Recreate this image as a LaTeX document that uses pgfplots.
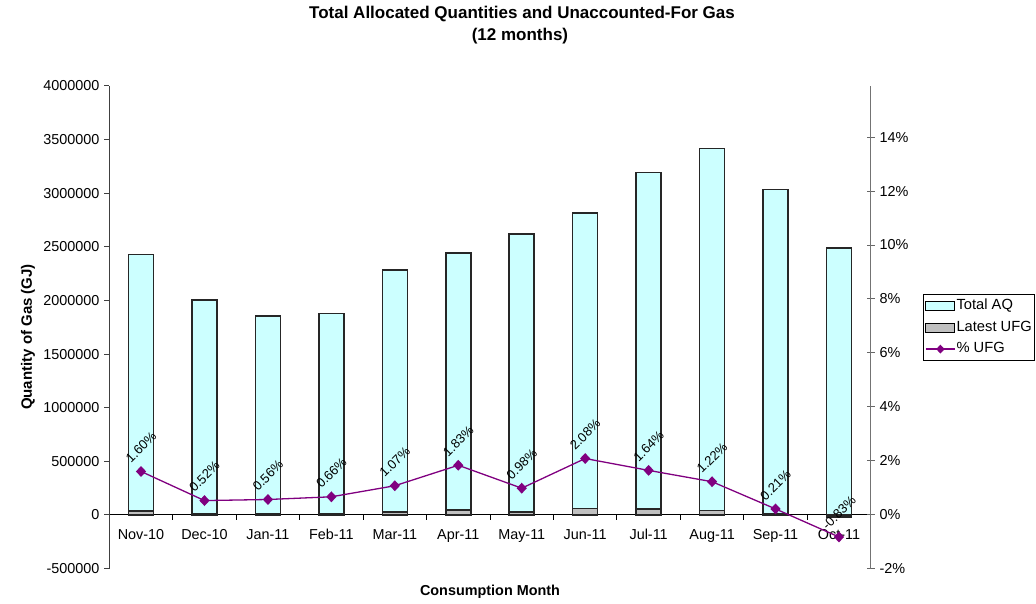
\documentclass[border=0pt]{standalone}
\usepackage{pgfplots}
\pgfplotsset{compat=1.18}
\usepackage{fontspec}
\setmainfont{Liberation Sans}
\definecolor{aq}{HTML}{CCFFFF}
\definecolor{ufg}{HTML}{C0C0C0}
\definecolor{pur}{HTML}{800080}
\pgfplotsset{lineleg/.style={legend image code/.code={\draw[##1, mark repeat=2, mark phase=2, mark size=3.5pt] plot coordinates {(0pt,0pt) (14.5pt,0pt) (29pt,0pt)};}}}
\begin{document}
\fontsize{14}{16}\selectfont
\begin{tikzpicture}
\useasboundingbox (0,0) rectangle (1036pt,603pt);
\node[font=\fontsize{17}{20}\selectfont\bfseries, anchor=base] at (522pt,584pt) {Total Allocated Quantities and Unaccounted-For Gas};
\node[font=\fontsize{17}{20}\selectfont\bfseries, anchor=base] at (520pt,562pt) {(12 months)};
\node[font=\fontsize{15}{17}\selectfont\bfseries, rotate=90] at (28pt,266pt) {Quantity of Gas (GJ)};
\node[font=\fontsize{14.4}{16}\selectfont\bfseries] at (490pt,11pt) {Consumption Month};
\begin{axis}[
  at={(109.3pt,34.5pt)}, anchor=south west, scale only axis,
  width=761.4pt, height=482.5pt,
  xmin=-0.5, xmax=11.5, ymin=-500000, ymax=4000000,
  axis y line*=left, axis x line*=middle,
  tick align=outside, scaled y ticks=false,
  y axis line style={draw=black!75, line width=1.2pt},
  x axis line style={draw=black, line width=1.2pt},
  xtick={0,...,11},
  xticklabels={Nov-10,Dec-10,Jan-11,Feb-11,Mar-11,Apr-11,May-11,Jun-11,Jul-11,Aug-11,Sep-11,Oct-11},
  major x tick style={draw=none},
  minor xtick={-0.5,0.5,1.5,2.5,3.5,4.5,5.5,6.5,7.5,8.5,9.5,10.5,11.5},
  minor x tick style={draw=black, line width=1pt},
  minor tick length=5pt,
  xticklabel style={anchor=base, yshift=-20pt, font=\fontsize{14.4}{16}\selectfont},
  ytick={-500000,0,500000,1000000,1500000,2000000,2500000,3000000,3500000,4000000},
  yticklabels={-500000,0,500000,1000000,1500000,2000000,2500000,3000000,3500000,4000000},
  major y tick style={draw=black!75, line width=1pt},
  major tick length=5pt,
  yticklabel style={font=\fontsize{14.4}{16}\selectfont},
]
\addplot[ybar, bar width=25pt, bar shift=0pt, fill=aq, draw=black!85, line width=1.6pt] coordinates {
(0,2429000) (1,2003000) (2,1856000) (3,1877000) (4,2283000) (5,2444000)
(6,2619000) (7,2815000) (8,3194000) (9,3416000) (10,3036000) (11,2491000)};
\addplot[ybar, bar width=25pt, bar shift=0pt, fill=ufg, draw=black!85, line width=1.6pt] coordinates {
(0,38864) (1,10416) (2,10394) (3,12388) (4,24428) (5,44725)
(6,25666) (7,58552) (8,52382) (9,41675) (10,6376) (11,-20675)};
\end{axis}
\begin{axis}[
  at={(109.3pt,34.5pt)}, anchor=south west, scale only axis,
  width=761.4pt, height=482.5pt,
  xmin=-0.5, xmax=11.5, ymin=-0.02, ymax=0.159,
  axis y line*=right, axis x line=none,
  y axis line style={draw=black!55, line width=1.2pt},
  ytick={-0.02,0,0.02,0.04,0.06,0.08,0.10,0.12,0.14},
  yticklabels={-2\%,0\%,2\%,4\%,6\%,8\%,10\%,12\%,14\%},
  tick align=center, major tick length=8pt,
  major y tick style={draw=black!60, line width=1pt},
  yticklabel style={font=\fontsize{14.4}{16}\selectfont},
  legend cell align=left,
  legend style={at={(1.0685,0.569)}, anchor=north west, draw=black, line width=0.8pt, fill=white,
    inner xsep=2pt, inner ysep=1pt, font=\fontsize{14.7}{16}\selectfont,
    nodes={inner xsep=1pt, inner ysep=3.5pt, text height=11pt, text depth=3.5pt},
    column sep=0pt, row sep=0pt},
]
\addlegendimage{legend image code/.code={\draw[fill=aq, draw=black, line width=1pt] (0pt,-4.5pt) rectangle (29pt,4.5pt);}}
\addlegendentry{Total AQ}
\addlegendimage{legend image code/.code={\draw[fill=ufg, draw=black, line width=1pt] (0pt,-4.5pt) rectangle (29pt,4.5pt);}}
\addlegendentry{Latest UFG}
\addplot[pur, line width=1.3pt, mark=diamond*, mark size=4.5pt, mark options={xscale=1.25},
  lineleg,
  nodes near coords, point meta=explicit symbolic,
  every node near coord/.append style={anchor=center, yshift=24pt, rotate=45, black, inner sep=0pt, font=\fontsize{13}{14}\selectfont}]
table[meta=lab] {
x y lab
0 0.0160 1.60\%
1 0.0052 0.52\%
2 0.0056 0.56\%
3 0.0066 0.66\%
4 0.0107 1.07\%
5 0.0183 1.83\%
6 0.0098 0.98\%
7 0.0208 2.08\%
8 0.0164 1.64\%
9 0.0122 1.22\%
10 0.0021 0.21\%
11 -0.0083 -0.83\%
};
\addlegendentry{\% UFG}
\end{axis}
\end{tikzpicture}
\end{document}
